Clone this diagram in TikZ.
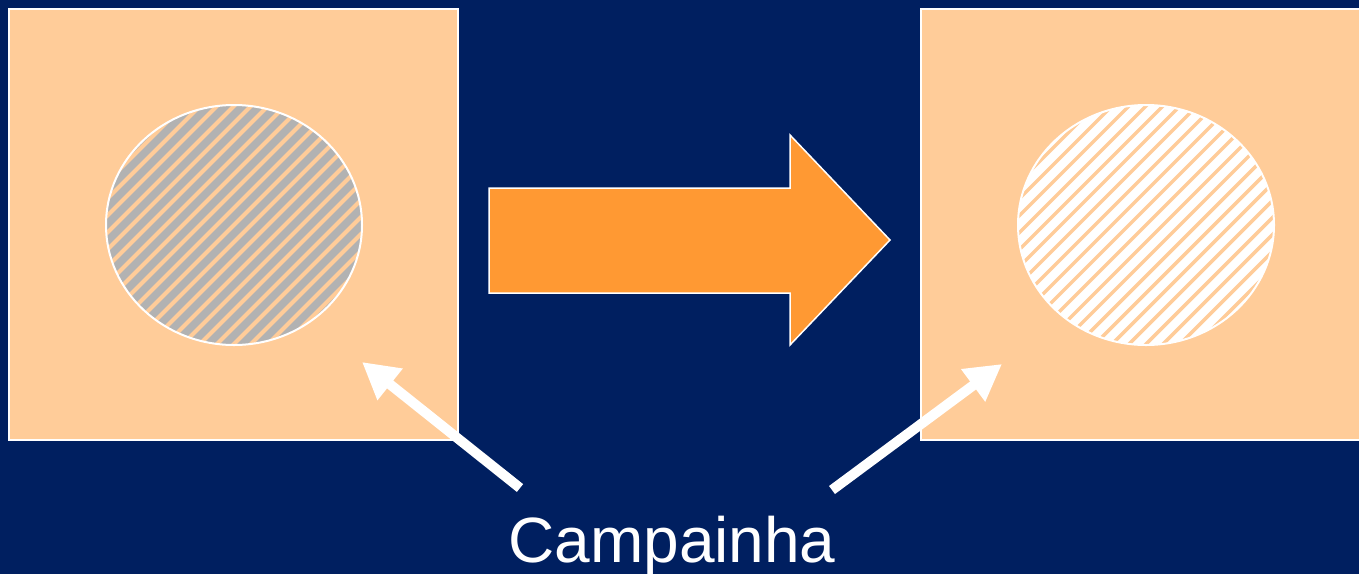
\documentclass[tikz,border=0pt]{standalone}
\usepackage{fontspec}
\setmainfont{Liberation Sans}
\usetikzlibrary{arrows.meta,calc}
\definecolor{navy}{RGB}{0,31,96}
\definecolor{peach}{RGB}{255,204,153}
\definecolor{bigorange}{RGB}{255,153,51}
\definecolor{hatchgray}{RGB}{178,178,178}
\tikzset{
  panel/.style={draw=white, line width=2pt, fill=peach},
  pointer/.style={draw=white, line width=10pt, -{Triangle[length=36pt,width=38pt]}},
  label/.style={text=white, font=\fontsize{64}{70}\selectfont, inner sep=0pt},
  stripe/.style={peach, line width=4pt},
}
\begin{document}
\begin{tikzpicture}[x=1pt,y=-1pt]
\useasboundingbox (0,0) rectangle (1359,574);
\fill[navy] (0,0) rectangle (1359,574);
% panels
\draw[panel] (9,9) rectangle (458,440);
\draw[panel] (921,9) rectangle (1370,440);
% circles
\coordinate (c1) at (234,225);
\coordinate (c2) at (1146,225);
\begin{scope}
  \clip (c1) ellipse [x radius=128, y radius=120];
  \fill[hatchgray] (c1) ellipse [x radius=128, y radius=120];
  \foreach \i in {-22,...,22}
    \draw[stripe] ($(c1)+(\i*17-150,150)$) -- ($(c1)+(\i*17+150,-150)$);
\end{scope}
\draw[white, line width=2pt] (c1) ellipse [x radius=128, y radius=120];
\begin{scope}
  \clip (c2) ellipse [x radius=128, y radius=120];
  \fill[white] (c2) ellipse [x radius=128, y radius=120];
  \foreach \i in {-22,...,22}
    \draw[stripe, line width=3.5pt] ($(c2)+(\i*17-150,150)$) -- ($(c2)+(\i*17+150,-150)$);
\end{scope}
\draw[white, line width=2pt] (c2) ellipse [x radius=128, y radius=120];
% big arrow
\fill[bigorange, draw=white, line width=1.5pt] (489,188) -- (790,188) -- (790,135) -- (890,240) -- (790,345) -- (790,293) -- (489,293) -- cycle;
% label and pointers
\node[label, anchor=base] (lbl) at (672,562) {Campainha};
\coordinate (t1) at (520,488);
\coordinate (h1) at (362,362);
\coordinate (t2) at (832,490);
\coordinate (h2) at (1002,364);
\draw[pointer] (t1) -- (h1);
\draw[pointer] (t2) -- (h2);
\end{tikzpicture}
\end{document}
